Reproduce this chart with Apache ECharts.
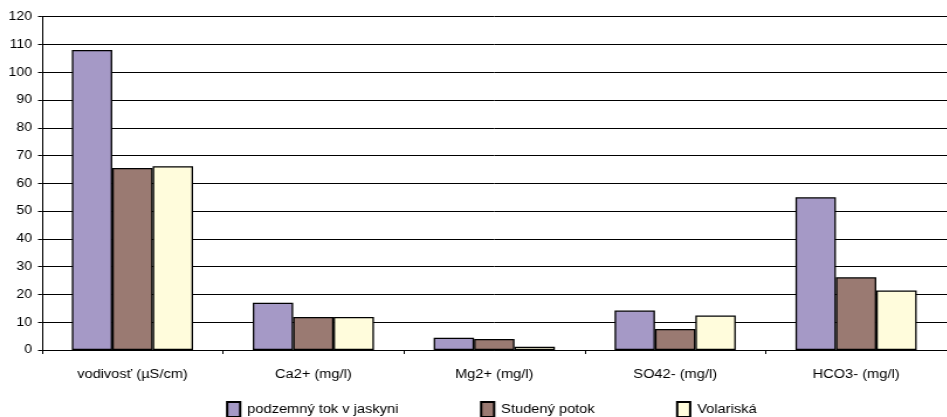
<!DOCTYPE html>
<html>
<head>
<meta charset="utf-8">
<script src="https://cdn.jsdelivr.net/npm/echarts@6/dist/echarts.min.js"></script>
<style>
html,body{margin:0;padding:0;background:#fff;overflow:hidden;}
#wrap{width:947px;height:417px;overflow:hidden;position:relative;}
#chart{height:417px;transform-origin:0 0;position:absolute;left:0;top:0;}
</style>
</head>
<body>
<div id="wrap"><div id="chart"></div></div>
<script>
var categories = ['vodivosť (µS/cm)', 'Ca2+ (mg/l)', 'Mg2+ (mg/l)', 'SO42- (mg/l)', 'HCO3- (mg/l)'];
var seriesNames = ['podzemný tok v jaskyni', 'Studený potok', 'Volariská'];
var podzemny = [108, 17.0, 4.4, 14.2, 55.0];
var studeny = [65.5, 11.9, 4.0, 7.6, 26.2];
var volariska = [66.2, 11.9, 1.2, 12.4, 21.4];
var yTicks = [0, 10, 20, 30, 40, 50, 60, 70, 80, 90, 100, 110, 120];

// horizontal stretch of the original picture
var sx = 1.17;
var el = document.getElementById('chart');
el.style.width = (947 / sx) + 'px';
el.style.transform = 'scaleX(' + sx + ')';

var colors = ['#A599C6', '#9A7A72', '#FFFCDC'];
var font = 'Liberation Sans, Arial, sans-serif';
var chart = echarts.init(el, null, {renderer: 'canvas'});
var values = [podzemny, studeny, volariska];
var series = seriesNames.map(function (n, i) {
  return {
    name: n,
    type: 'bar',
    data: values[i],
    barGap: '0%',
    barCategoryGap: '33%',
    itemStyle: {color: colors[i], borderColor: '#000', borderWidth: 1.3},
    emphasis: {disabled: true}
  };
});
var legendLefts = [226, 480, 676];
var legends = seriesNames.map(function (n, i) {
  return {
    data: [{name: n, icon: 'rect'}],
    left: legendLefts[i] / sx,
    top: 401,
    padding: 0,
    itemWidth: 13 / sx,
    itemHeight: 15,
    itemGap: 6,
    selectedMode: false,
    textStyle: {fontFamily: font, fontSize: 12.5, color: '#000', padding: [0, 0, 0, 1]}
  };
});
chart.setOption({
  animation: false,
  backgroundColor: '#fff',
  color: colors,
  grid: {left: 42 / sx, right: -4 / sx, top: 16.7, bottom: 67, containLabel: false},
  legend: legends,
  xAxis: {
    type: 'category',
    data: categories,
    axisLine: {lineStyle: {color: '#000', width: 1}},
    axisTick: {show: true, length: 4, inside: false, alignWithLabel: false, lineStyle: {color: '#000'}},
    axisLabel: {margin: 18, fontFamily: font, fontSize: 12.5, color: '#000', interval: 0},
    splitLine: {show: false}
  },
  yAxis: {
    type: 'value',
    min: yTicks[0],
    max: yTicks[yTicks.length - 1],
    interval: 10,
    axisLine: {show: true, lineStyle: {color: '#000', width: 1}},
    axisTick: {show: true, length: 4 / sx, lineStyle: {color: '#000'}},
    axisLabel: {margin: 10 / sx, fontFamily: font, fontSize: 12, color: '#000'},
    splitLine: {show: true, lineStyle: {color: '#000', width: 1}}
  },
  series: series
});
</script>
</body>
</html>
